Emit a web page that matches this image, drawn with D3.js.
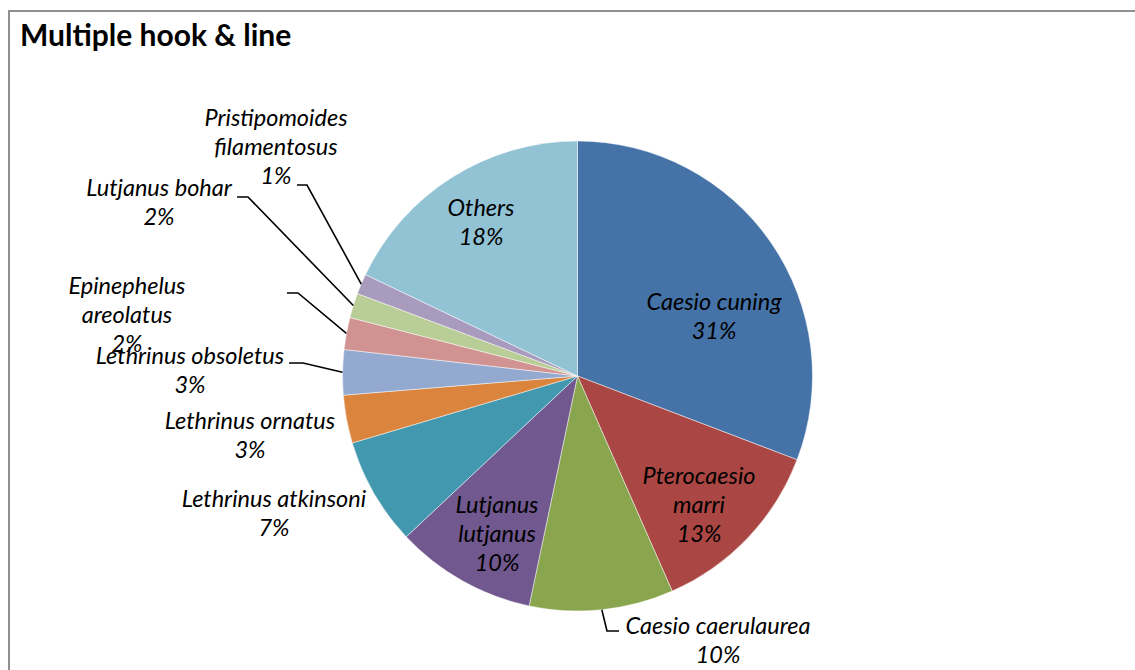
<!DOCTYPE html>
<html>
<head>
<meta charset="utf-8">
<script src="https://cdn.jsdelivr.net/npm/d3@7"></script>
<style>
  html, body { margin: 0; padding: 0; background: #fff; }
  svg { display: block; }
</style>
</head>
<body>
<svg id="chart" width="1135" height="670"></svg>
<script>
// ---- data ----
const title = "Multiple hook & line";
const species = [
  "Caesio cuning", "Pterocaesio marri", "Caesio caerulaurea", "Lutjanus lutjanus",
  "Lethrinus atkinsoni", "Lethrinus ornatus", "Lethrinus obsoletus",
  "Epinephelus areolatus", "Lutjanus bohar", "Pristipomoides filamentosus", "Others"
];
const shares = [30.8, 12.6, 9.9, 9.7, 7.4, 3.3, 3.1, 2.2, 1.7, 1.4, 17.9];
const percentLabels = ["31%", "13%", "10%", "10%", "7%", "3%", "3%", "2%", "2%", "1%", "18%"];
const colors = ["#4572A7", "#AA4643", "#89A54E", "#71588F", "#4198AF", "#DB843D",
                "#93A9CF", "#D19392", "#B9CD96", "#A99BBD", "#92C3D5"];

// ---- layout (label placement, leader elbows) ----
const labelLayout = {
  "Caesio cuning":               { x: 714, y: 310, lines: ["Caesio cuning"] },
  "Pterocaesio marri":           { x: 699, y: 484, lines: ["Pterocaesio", "marri"] },
  "Caesio caerulaurea":          { x: 718, y: 634, lines: ["Caesio caerulaurea"], leader: [[607, 631], [619, 631]] },
  "Lutjanus lutjanus":           { x: 497, y: 513, lines: ["Lutjanus", "lutjanus"] },
  "Lethrinus atkinsoni":         { x: 274, y: 507, lines: ["Lethrinus atkinsoni"] },
  "Lethrinus ornatus":           { x: 250, y: 429, lines: ["Lethrinus ornatus"] },
  "Lethrinus obsoletus":         { x: 190, y: 364, lines: ["Lethrinus obsoletus"], leader: [[303, 363], [289, 363]] },
  "Epinephelus areolatus":       { x: 127, y: 294, lines: ["Epinephelus", "areolatus"], leader: [[298, 293], [287, 293]] },
  "Lutjanus bohar":              { x: 159, y: 196, lines: ["Lutjanus bohar"], leader: [[248, 197], [237, 197]] },
  "Pristipomoides filamentosus": { x: 276, y: 126, lines: ["Pristipomoides", "filamentosus"], leader: [[307, 185], [297, 185]] },
  "Others":                      { x: 481, y: 216, lines: ["Others"] }
};

const cx = 577.5, cy = 376, radius = 235;
const lineH = 29;

const svg = d3.select("#chart");

// border frame
svg.append("rect")
  .attr("x", 9).attr("y", 11)
  .attr("width", 1140).attr("height", 680)
  .attr("fill", "none")
  .attr("stroke", "#8f8f8f")
  .attr("stroke-width", 2);

// title
svg.append("text")
  .attr("x", 20).attr("y", 46)
  .attr("font-family", "Lato, 'Open Sans', sans-serif")
  .attr("font-weight", "bold")
  .attr("font-size", 30)
  .attr("fill", "#000")
  .text(title);

const data = species.map((s, i) => ({ name: s, value: shares[i], pct: percentLabels[i], color: colors[i] }));

const pie = d3.pie().sort(null).value(d => d.value).startAngle(0).endAngle(2 * Math.PI);
const arcs = pie(data);
const arc = d3.arc().innerRadius(0).outerRadius(radius);

const g = svg.append("g").attr("transform", `translate(${cx},${cy})`);

g.selectAll("path.slice")
  .data(arcs)
  .join("path")
  .attr("class", "slice")
  .attr("d", arc)
  .attr("fill", d => d.data.color)
  .attr("stroke", "#ffffff")
  .attr("stroke-opacity", 0.6)
  .attr("stroke-width", 0.8);

// leader lines
arcs.forEach(a => {
  const lay = labelLayout[a.data.name];
  if (!lay.leader) return;
  const mid = (a.startAngle + a.endAngle) / 2;
  const ex = cx + radius * Math.sin(mid);
  const ey = cy - radius * Math.cos(mid);
  const pts = [[ex, ey], ...lay.leader];
  svg.append("path")
    .attr("d", d3.line()(pts))
    .attr("fill", "none")
    .attr("stroke", "#000")
    .attr("stroke-width", 1.6);
});

// labels
arcs.forEach(a => {
  const lay = labelLayout[a.data.name];
  const lines = lay.lines.concat([a.data.pct]);
  const t = svg.append("text")
    .attr("font-family", "Lato, 'Open Sans', sans-serif")
    .attr("font-style", "italic")
    .attr("font-size", 23.5)
    .attr("fill", "#000")
    .attr("text-anchor", "middle");
  lines.forEach((ln, i) => {
    t.append("tspan").attr("x", lay.x).attr("y", lay.y + i * lineH).text(ln);
  });
});
</script>
</body>
</html>
